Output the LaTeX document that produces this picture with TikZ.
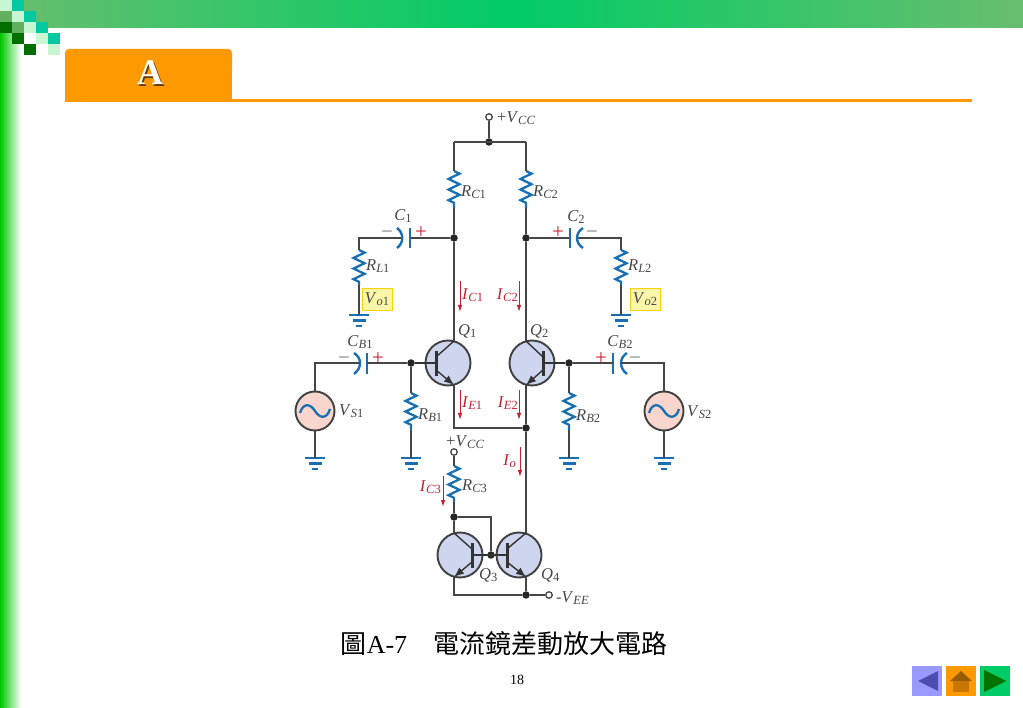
\documentclass[tikz,border=0pt]{standalone}
\usepackage{fontspec}
\setmainfont{Liberation Serif}
\newfontfamily\cjkfont{Noto Sans CJK TC}
\usepackage{xcolor}
\definecolor{wiregray}{RGB}{70, 70, 70}
\definecolor{partblue}{RGB}{24, 112, 178}
\definecolor{currentred}{RGB}{200, 32, 48}
\definecolor{labelgray}{RGB}{70, 70, 70}
\definecolor{bjtblue}{RGB}{205, 214, 238}
\definecolor{srcpink}{RGB}{248, 214, 206}
\definecolor{tagyellow}{RGB}{252, 246, 170}
\definecolor{taborange}{RGB}{255, 153, 0}
\definecolor{barmid}{RGB}{0, 204, 102}
\definecolor{barside}{RGB}{105, 190, 110}
\definecolor{chkteal}{RGB}{0, 200, 160}
\definecolor{chkdark}{RGB}{0, 110, 0}
\definecolor{chkmid}{RGB}{96, 176, 96}
\definecolor{chkpale}{RGB}{200, 245, 210}
\usetikzlibrary{
    arrows.meta,
    calc,
    decorations.pathmorphing
}
\newcommand{\sublab}[2]{\textit{#1}\raisebox{-0.35ex}{\fontsize{12.5}{12.5}\selectfont #2}}
\tikzset{
    x=1pt,y=-1pt,
    wire/.style={draw=wiregray,line width=1.7pt},
    thinwire/.style={draw=wiregray,line width=1.3pt},
    zigres/.style={draw=partblue,line width=2.3pt,decorate,
        decoration={zigzag,segment length=10.6pt,amplitude=5.5pt}},
    plate/.style={draw=partblue,line width=2.4pt},
    dotnode/.style={circle,fill=black!85,inner sep=0pt,minimum size=7.5pt},
    opennode/.style={circle,draw=wiregray,fill=white,line width=1.3pt,inner sep=0pt,minimum size=6.5pt},
    bjtnode/.style={circle,draw=black!75,fill=bjtblue,line width=1.9pt,inner sep=0pt,minimum size=45pt},
    srcnode/.style={circle,draw=black!75,fill=srcpink,line width=1.9pt,inner sep=0pt,minimum size=39pt},
    bjtbar/.style={draw=black!80,line width=3pt},
    lead/.style={draw=black!80,line width=1.4pt},
    emitarrow/.style={draw=black!80,line width=1.4pt,-{Latex[length=10pt,width=8pt]}},
    irrow/.style={draw=currentred,line width=1pt,-{Latex[length=7pt,width=4.5pt]}},
    lab/.style={text=labelgray,inner sep=0pt,font=\fontsize{16.5}{16.5}\selectfont},
    ilab/.style={text=currentred,inner sep=0pt,font=\fontsize{16.5}{16.5}\selectfont},
    signred/.style={text=currentred,inner sep=0pt,font=\fontsize{21}{21}\selectfont},
    signgray/.style={text=labelgray!70,inner sep=0pt,font=\fontsize{21}{21}\selectfont},
    tagbox/.style={draw=yellow!70!orange,fill=tagyellow,line width=0.6pt,inner sep=0pt,
        minimum width=30pt,minimum height=22pt,text=labelgray,font=\fontsize{16.5}{16.5}\selectfont},
    navbox/.style={inner sep=0pt,minimum size=30pt},
    pics/gndsym/.style={code={
        \draw[draw=partblue,line width=2.2pt] (-10,0) -- (10,0) (-6.5,5.5) -- (6.5,5.5) (-3,11) -- (3,11);
    }},
    pics/sinewave/.style={code={
        \draw[draw=partblue,line width=2.3pt] (-15,2) .. controls (-12,-8) and (-5,-8) .. (0,0)
            .. controls (5,8) and (12,8) .. (15,-2);
    }}
}
\begin{document}
\begin{tikzpicture}
    \useasboundingbox (0,0) rectangle (1023,708);
    \fill[white] (0,0) rectangle (1023,708);
    % slide frame
    \fill[left color=barside,right color=barside,middle color=barmid,draw=none] (0,0) rectangle (1023,28);
    \fill[left color=green!78!black,right color=white,draw=none] (0,28) rectangle (21,708);
    \foreach \cx/\cy/\ccol in {0/0/chkpale,12/0/chkteal,
        0/11/chkmid,12/11/chkpale,24/11/chkteal,
        0/22/chkdark,12/22/chkmid,24/22/chkpale,36/22/chkteal,
        12/33/chkdark,24/33/white,36/33/chkpale,48/33/chkteal,
        24/44/chkdark,36/44/white,48/44/chkpale}
        \fill[\ccol] (\cx,\cy) rectangle ++(12,11);
    \fill[taborange,rounded corners=4pt] (65,49) rectangle (232,70);
    \fill[taborange] (65,60) rectangle (232,102);
    \draw[taborange,line width=3pt] (232,101) -- (972,101);
    \node[text=black!60!taborange,inner sep=0pt,font=\fontsize{36}{36}\selectfont\bfseries] (tabshadow) at (151.5,74.5) {A};
    \node[text=white,inner sep=0pt,font=\fontsize{36}{36}\selectfont\bfseries] (tabtitle) at (150,73) {A};

    % wiring junctions
    \node[opennode] (vcctop) at (489,117) {};
    \node[dotnode] (jtop) at (489,142) {};
    \coordinate (tl) at (454,142);
    \coordinate (tr) at (526,142);
    \node[dotnode] (jc1) at (454,238) {};
    \node[dotnode] (jc2) at (526,238) {};
    \node[dotnode] (jb1) at (411,363) {};
    \node[dotnode] (jb2) at (569,363) {};
    \node[dotnode] (je) at (526,428) {};
    \node[opennode] (vcclow) at (454,452) {};
    \node[dotnode] (jc3) at (454,517) {};
    \coordinate (mfold) at (491,517);
    \node[dotnode] (jm) at (491,555) {};
    \node[dotnode] (jee) at (526,595) {};
    \coordinate (bl) at (454,595);
    \node[opennode] (vee) at (549,595) {};

    % collector and load resistors
    \foreach \rname/\rx/\rtop/\rbot in {rc1/454/171/208,rc2/526/171/208,rl1/359/250/285,rl2/621/250/285,
        rb1/411/393/430,rb2/569/393/430,rc3/454/466/502} {
        \coordinate (\rname t) at (\rx,\rtop);
        \coordinate (\rname b) at (\rx,\rbot);
        \draw[zigres] (\rname t) -- (\rname b);
    }
    \draw[wire] (vcctop) -- (jtop);
    \draw[wire] (tl) -- (tr);
    \draw[wire] (tl) -- (rc1t);
    \draw[wire] (tr) -- (rc2t);
    \draw[wire] (rc1b) -- (jc1);
    \draw[wire] (rc2b) -- (jc2);

    % output coupling caps
    \coordinate (c1a) at (402,238);
    \coordinate (c1b) at (410,238);
    \coordinate (c2a) at (570,238);
    \coordinate (c2b) at (577,238);
    \coordinate (l1) at (359,238);
    \coordinate (l2) at (621,238);
    \draw[wire] (rl1t) -- (l1) -- (c1a);
    \draw[wire] (c1b) -- (jc1);
    \draw[wire] (jc2) -- (c2a);
    \draw[wire] (c2b) -- (l2) -- (rl2t);
    \draw[plate] (410,228) -- (410,248);
    \draw[plate] (397,228) .. controls (404,233) and (404,243) .. (397,248);
    \draw[plate] (570,228) -- (570,248);
    \draw[plate] (583,228) .. controls (575,233) and (575,243) .. (583,248);

    % input coupling caps
    \coordinate (cb1a) at (360,363);
    \coordinate (cb1b) at (367,363);
    \coordinate (cb2a) at (613,363);
    \coordinate (cb2b) at (621,363);
    \coordinate (s1) at (315,363);
    \coordinate (s2) at (664,363);
    \draw[plate] (367,353) -- (367,374);
    \draw[plate] (354,353) .. controls (362,358) and (362,368) .. (354,374);
    \draw[plate] (613,353) -- (613,374);
    \draw[plate] (627,353) .. controls (619,358) and (619,368) .. (627,374);

    % sources
    \node[srcnode] (vs1) at (315,411) {};
    \node[srcnode] (vs2) at (664,411) {};
    \pic at (vs1) {sinewave};
    \pic at (vs2) {sinewave};
    \draw[wire] (vs1) -- (s1) -- (cb1a);
    \draw[wire] (cb1b) -- (jb1);
    \draw[wire] (jb2) -- (cb2a);
    \draw[wire] (cb2b) -- (s2) -- (vs2);
    \draw[wire] (jb1) -- (rb1t);
    \draw[wire] (jb2) -- (rb2t);

    % grounds
    \foreach \gname/\gx/\gy in {g1/359/315,g2/621/315,g3/315/458,g4/411/458,g5/569/458,g6/664/458} {
        \coordinate (\gname) at (\gx,\gy);
        \pic at (\gname) {gndsym};
    }
    \draw[wire] (rl1b) -- (g1);
    \draw[wire] (rl2b) -- (g2);
    \draw[wire] (vs1) -- (g3);
    \draw[wire] (rb1b) -- (g4);
    \draw[wire] (rb2b) -- (g5);
    \draw[wire] (vs2) -- (g6);

    % transistors
    \foreach \qname/\qx/\qy/\bx/\cex in {q1/448/363/436/454,q2/532/363/543/526,
        q3/460/555/472/454,q4/519/555/507/526} {
        \node[bjtnode] (\qname) at (\qx,\qy) {};
        \coordinate (\qname c) at (\cex,\qy-22);
        \coordinate (\qname e) at (\cex,\qy+22);
        \coordinate (\qname b) at (\bx,\qy);
        \draw[lead] (\bx,\qy-6) -- (\qname c);
        \draw[emitarrow] (\bx,\qy+7) -- (\qname e);
        \draw[bjtbar] (\bx,\qy-12) -- (\bx,\qy+13);
    }
    \draw[wire] (jc1) -- (q1c);
    \draw[wire] (jc2) -- (q2c);
    \draw[wire] (q1e) |- (je);
    \draw[wire] (q2e) -- (je);
    \draw[lead] (jb1) -- (q1b);
    \draw[lead] (q2b) -- (jb2);
    % current mirror
    \draw[wire] (vcclow) -- (rc3t);
    \draw[wire] (rc3b) -- (jc3);
    \draw[wire] (jc3) -- (q3c);
    \draw[thinwire] (jc3) -- (mfold) -- (jm);
    \draw[lead] (q3b) -- (q4b);
    \draw[wire] (je) -- (q4c);
    \draw[wire] (q3e) -- (bl) -- (jee);
    \draw[wire] (q4e) -- (jee);
    \draw[wire] (jee) -- (vee);

    % branch currents
    \foreach \iname/\ix/\ia/\ib in {ic1/460/281/312,ic2/519/281/312,ie1/460/390/420,ie2/519/390/420,
        io/520/447/477,ic3/443/476/507} {
        \coordinate (\iname a) at (\ix,\ia);
        \coordinate (\iname b) at (\ix,\ib);
        \draw[irrow] (\iname a) -- (\iname b);
    }

    % part labels
    \node[lab,anchor=west] (lvcc) at (497,118) {+\sublab{V}{\textit{CC}}};
    \node[lab,anchor=west] (lrc1) at (461,192) {\sublab{R}{\textit{C}1}};
    \node[lab,anchor=west] (lrc2) at (533,192) {\sublab{R}{\textit{C}2}};
    \node[lab] (lc1) at (403,216) {\sublab{C}{1}};
    \node[lab] (lc2) at (576,217) {\sublab{C}{2}};
    \node[lab,anchor=west] (lrl1) at (366,266) {\sublab{R}{\textit{L}1}};
    \node[lab,anchor=west] (lrl2) at (628,266) {\sublab{R}{\textit{L}2}};
    \node[tagbox] (vo1) at (377,299) {\sublab{V}{\textit{o}1}};
    \node[tagbox] (vo2) at (645,299) {\sublab{V}{\textit{o}2}};
    \node[lab,anchor=west] (lq1) at (458,331) {\sublab{Q}{1}};
    \node[lab,anchor=west] (lq2) at (530,331) {\sublab{Q}{2}};
    \node[lab] (lcb1) at (360,342) {\sublab{C}{\textit{B}1}};
    \node[lab] (lcb2) at (620,342) {\sublab{C}{\textit{B}2}};
    \node[lab,anchor=west] (lvs1) at (339,411) {\sublab{V}{\textit{S}1}};
    \node[lab,anchor=west] (lvs2) at (687,412) {\sublab{V}{\textit{S}2}};
    \node[lab,anchor=west] (lrb1) at (418,415) {\sublab{R}{\textit{B}1}};
    \node[lab,anchor=west] (lrb2) at (576,416) {\sublab{R}{\textit{B}2}};
    \node[lab,anchor=west] (lvcc2) at (446,442) {+\sublab{V}{\textit{CC}}};
    \node[lab,anchor=west] (lrc3) at (462,486) {\sublab{R}{\textit{C}3}};
    \node[lab,anchor=west] (lq3) at (479,575) {\sublab{Q}{3}};
    \node[lab,anchor=west] (lq4) at (541,575) {\sublab{Q}{4}};
    \node[lab,anchor=west] (lvee) at (556,598) {-\sublab{V}{\textit{EE}}};
    % current labels
    \node[ilab,anchor=west] (lic1) at (462,295) {\sublab{I}{\textit{C}1}};
    \node[ilab,anchor=east] (lic2) at (518,295) {\sublab{I}{\textit{C}2}};
    \node[ilab,anchor=west] (lie1) at (462,403) {\sublab{I}{\textit{E}1}};
    \node[ilab,anchor=east] (lie2) at (518,403) {\sublab{I}{\textit{E}2}};
    \node[ilab,anchor=east] (lio) at (516,461) {\sublab{I}{\textit{o}}};
    \node[ilab,anchor=east] (lic3) at (441,487) {\sublab{I}{\textit{C}3}};
    % polarity marks
    \node[signgray] (m1) at (387,235) {\textminus};
    \node[signred] (p1) at (421,233) {+};
    \node[signred] (p2) at (558,233) {+};
    \node[signgray] (m2) at (592,235) {\textminus};
    \node[signgray] (m3) at (344,361) {\textminus};
    \node[signred] (p3) at (378,359) {+};
    \node[signred] (p4) at (601,359) {+};
    \node[signgray] (m4) at (635,361) {\textminus};

    % caption and page number
    \node[inner sep=0pt,font=\fontsize{26}{26}\selectfont] (caption) at (504,644) {{\cjkfont 圖}A-7\hspace{1em}{\cjkfont 電流鏡差動放大電路}};
    \node[inner sep=0pt,font=\fontsize{14}{14}\selectfont] (pagenum) at (517,680) {18};

    % nav buttons
    \node[navbox,fill=blue!40!white] (navprev) at (927,681) {};
    \node[navbox,fill=taborange] (navhome) at (961,681) {};
    \node[navbox,fill=barmid] (navnext) at (995,681) {};
    \fill[blue!40!gray] (918,681) -- (938,671) -- (938,691) -- cycle;
    \fill[black!40!taborange] (950,681) -- (961,671) -- (972,681) -- cycle;
    \fill[black!22!taborange] (953,681) rectangle (969,692);
    \fill[green!45!black] (984,670) -- (1006,681) -- (984,692) -- cycle;
\end{tikzpicture}
\end{document}
